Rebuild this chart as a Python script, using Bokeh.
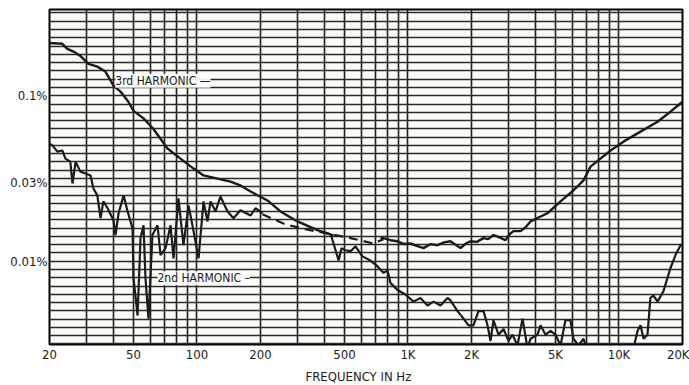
from bokeh.plotting import figure
from bokeh.models import FixedTicker, Range1d, Label, Title
from bokeh.embed import file_html
from bokeh.resources import INLINE

# ---------------- data (frequency in Hz, distortion in %) ----------------
x_tick_values = [20, 50, 100, 200, 500, 1000, 2000, 5000, 10000, 20000]
x_tick_labels = ["20", "50", "100", "200", "500", "1K", "2K", "5K", "10K", "20K"]
y_tick_values = [0.01, 0.03, 0.1]
y_tick_labels = ["0.01%", "0.03%", "0.1%"]

# 3rd harmonic, solid part (low frequencies)
freq_3rd_a = [20, 23.0, 24.3, 26.0, 28.0, 30.6, 33.7, 36.8, 40.2, 43.4, 47.3, 50.0,
              55.8, 62.2, 72.5, 83.5, 96.3, 107.4, 125.1, 144.1, 160.7, 179.5,
              215.8, 248.8, 299.3, 372.5, 416, 444]
pct_3rd_a = [0.2085, 0.206, 0.192, 0.185, 0.174, 0.156, 0.150, 0.140, 0.115, 0.106, 0.092, 0.081,
             0.073, 0.063, 0.048, 0.0417, 0.0363, 0.033, 0.0316, 0.0303, 0.0287, 0.0264,
             0.0233, 0.0200, 0.0174, 0.0154, 0.01475, 0.0143]
# 3rd harmonic, solid part (mid / high frequencies)
freq_3rd_b = [741, 765.6, 826, 891.5, 960, 1028, 1100, 1185, 1280, 1380, 1480, 1589, 1680,
              1775, 1880, 1979, 2120, 2280, 2400, 2542, 2700, 2899, 3020, 3163, 3413, 3600,
              3809, 4200, 4583, 5285, 6082, 6791, 7330, 9119, 10500, 12650, 15230, 17540, 20000]
pct_3rd_b = [0.0138, 0.0138, 0.0134, 0.0132, 0.0127, 0.0128, 0.0124, 0.0120, 0.0127, 0.0125, 0.0130,
             0.0132, 0.0126, 0.0120, 0.0128, 0.0132, 0.0131, 0.0138, 0.0136, 0.0144, 0.0140,
             0.0134, 0.0145, 0.0152, 0.0152, 0.0160, 0.0174, 0.0185, 0.0195, 0.0230,
             0.0268, 0.0308, 0.0373, 0.0467, 0.0528, 0.0607, 0.0697, 0.0801, 0.092]

# dashed bridge between the two traces
freq_dash = [204.3, 262.6, 326.7, 430, 534.5, 686.6, 765.6]
pct_dash = [0.0192, 0.0167, 0.0156, 0.0146, 0.0138, 0.0128, 0.0136]

# 2nd harmonic, low frequencies
freq_2nd_a = [20, 20.7, 21.8, 23.0, 23.8, 25.1, 25.7, 26.6, 28.0, 29.6, 31.3, 32.3, 33.7,
              34.9, 36.0, 37.7, 40.2, 41.1, 42.5, 44.9, 46.9, 49.5, 50.0, 51.1, 52.3,
              54.0, 55.8, 57.0, 58.9, 61.5, 65.0, 67.2, 71.0, 74.9, 77.4, 81.7, 86.3,
              91.2, 96.3, 101.7, 107.4, 112.2, 115.9, 122.4, 129.2, 139.6, 148.9, 160.7,
              179.5, 189.3, 204.3]
pct_2nd_a = [0.0514, 0.050, 0.046, 0.0467, 0.0417, 0.040, 0.0295, 0.040, 0.0348, 0.0339, 0.033,
             0.0275, 0.025, 0.0182, 0.023, 0.0209, 0.0177, 0.0144, 0.0195, 0.025, 0.020,
             0.0158, 0.0079, 0.0062, 0.0047, 0.0138, 0.0165, 0.0079, 0.0045, 0.0144, 0.0165,
             0.0109, 0.012, 0.0165, 0.0104, 0.024, 0.0125, 0.0217, 0.0152, 0.0104, 0.023,
             0.0174, 0.023, 0.020, 0.0246, 0.020, 0.0182, 0.0203, 0.0189, 0.0209, 0.0195]

# 2nd harmonic, mid / high frequencies
freq_2nd_b = [430, 443.8, 469, 484, 505, 534.5, 564, 608, 663.6, 717.8, 765.6, 800, 826,
              891.5, 973, 1062, 1146, 1237, 1321, 1426, 1539, 1589, 1717, 1834, 1937, 2043,
              2158, 2280, 2382, 2461, 2542, 2686, 2837, 2995, 3129, 3304, 3491, 3682, 3809,
              4111, 4248, 4487, 4735, 5002, 5285, 5573, 5888, 6082, 6427, 6791, 7096, 8172,
              11590, 12250, 12650, 13070, 13650, 14090, 14580, 15230, 16250, 17540, 18530,
              19570, 20000]
pct_2nd_b = [0.0146, 0.0128, 0.0101, 0.012, 0.01165, 0.0115, 0.0123, 0.0107, 0.0101, 0.0093,
             0.0085, 0.0088, 0.0074, 0.0067, 0.0063, 0.0057, 0.006, 0.0054, 0.0057, 0.0054,
             0.006, 0.0058, 0.0050, 0.0045, 0.0041, 0.0041, 0.0050, 0.0050, 0.0041, 0.0033,
             0.0044, 0.0036, 0.0039, 0.0033, 0.0036, 0.0031, 0.0045, 0.0030, 0.0034, 0.0036,
             0.0041, 0.0036, 0.0038, 0.0036, 0.0031, 0.0044, 0.0044, 0.0034, 0.0031, 0.0034,
             0.0029, 0.0028, 0.0028, 0.0038, 0.0041, 0.0034, 0.0036, 0.006, 0.0062, 0.0057,
             0.0066, 0.0091, 0.0109, 0.0125, 0.0125]

# ---------------- figure ----------------
FONT = "DejaVu Sans Condensed"
INK = "#1b1b1b"

p = figure(width=689, height=385, x_axis_type="log", y_axis_type="log",
           x_range=Range1d(20, 20000), y_range=Range1d(0.00314, 0.332),
           output_backend="svg", toolbar_location=None,
           min_border_left=49, min_border_right=7, min_border_top=9, min_border_bottom=38)
p.background_fill_color = "#fbfbf6"
p.border_fill_color = "white"
p.outline_line_color = "black"
p.outline_line_width = 2

# grids: log decade lines vertically, 1 dB steps horizontally
x_grid = [m * 10 ** d for d in range(1, 5) for m in range(1, 10) if 20 <= m * 10 ** d <= 20000]
y_grid = [100 * 10 ** (-k / 20) for k in range(50, 91)]
p.xgrid.ticker = FixedTicker(ticks=x_grid)
p.ygrid.ticker = FixedTicker(ticks=y_grid)
p.xgrid.grid_line_color = "#1e1e1e"
p.xgrid.grid_line_width = 1.6
p.ygrid.grid_line_color = "#2a2a2a"
p.ygrid.grid_line_width = 1.4

for ax, vals, labs in ((p.xaxis[0], x_tick_values, x_tick_labels),
                       (p.yaxis[0], y_tick_values, y_tick_labels)):
    ax.ticker = FixedTicker(ticks=vals)
    ax.major_label_overrides = {v: l for v, l in zip(vals, labs)}
    ax.axis_line_color = None
    ax.major_tick_line_color = None
    ax.minor_tick_line_color = None
    ax.major_tick_out = 0
    ax.major_tick_in = 0
    ax.minor_tick_out = 0
    ax.major_label_text_font = FONT
    ax.major_label_text_font_size = "13px"
    ax.major_label_text_color = INK
    ax.major_label_standoff = 2

p.add_layout(Title(text="FREQUENCY IN Hz", align="left", offset=256,
                   text_font=FONT, text_font_size="13px", text_font_style="normal",
                   text_color=INK, standoff=4), "below")

# curves
p.line(freq_3rd_a, pct_3rd_a, line_color=INK, line_width=2.4)
p.line(freq_3rd_b, pct_3rd_b, line_color=INK, line_width=2.4)
p.line(freq_2nd_a, pct_2nd_a, line_color=INK, line_width=2.2)
p.line(freq_2nd_b, pct_2nd_b, line_color=INK, line_width=2.2)
p.line(freq_dash, pct_dash, line_color=INK, line_width=2.2, line_dash="9 6")

# curve labels
for txt, fx, fy in (("3rd HARMONIC \u2014", 41, 0.123), ("2nd HARMONIC \u2013", 65, 0.0079)):
    p.add_layout(Label(x=fx, y=fy, text=txt, text_font=FONT, text_font_size="12px",
                       text_color=INK, text_baseline="middle",
                       background_fill_color="white", background_fill_alpha=0.92))

open("out.html", "w").write(file_html(p, INLINE))
